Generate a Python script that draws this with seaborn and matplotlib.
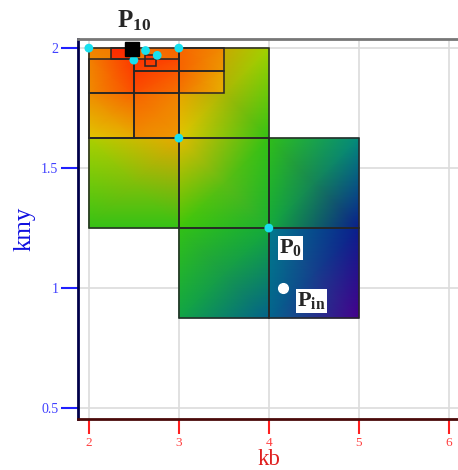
import numpy as np
import matplotlib
matplotlib.use('Agg')
import matplotlib.pyplot as plt
import seaborn as sns
import pandas as pd
from matplotlib.colors import LinearSegmentedColormap
from matplotlib.patches import Rectangle

sns.set_style('white')
plt.rcParams['font.family'] = ['Liberation Serif', 'DejaVu Serif']
plt.rcParams['mathtext.fontset'] = 'custom'
plt.rcParams['mathtext.rm'] = 'Liberation Serif'
plt.rcParams['mathtext.it'] = 'Liberation Serif:italic'
plt.rcParams['mathtext.bf'] = 'Liberation Serif:bold'

# cells (x0, x1, y0, y1), coarse first, refined ones drawn on top
cells = [
    (2.0, 3.0, 1.25, 1.625),
    (3.0, 4.0, 1.25, 1.625),
    (4.0, 5.0, 1.25, 1.625),
    (3.0, 4.0, 0.875, 1.25),
    (4.0, 5.0, 0.875, 1.25),
    (3.0, 4.0, 1.625, 2.0),
    (2.0, 3.0, 1.625, 2.0),
    (3.0, 3.5, 1.8125, 1.906),
    (3.0, 3.5, 1.906, 2.0),
    (2.0, 2.5, 1.625, 1.8125),
    (2.5, 3.0, 1.625, 1.8125),
    (2.0, 2.5, 1.8125, 1.953),
    (2.5, 3.0, 1.8125, 1.906),
    (2.5, 3.0, 1.906, 1.953),
    (2.25, 2.5, 1.953, 2.0),
    (2.625, 2.75, 1.925, 1.97),
]
# field value at each cell's corners (bottom-left, bottom-right, top-left, top-right)
# 1 = red, 0 = purple, estimated from the picture's colours
cell_values = [
    (0.48, 0.48, 0.62, 0.75),
    (0.50, 0.42, 0.72, 0.48),
    (0.40, 0.10, 0.47, 0.28),
    (0.38, 0.20, 0.48, 0.40),
    (0.21, 0.00, 0.24, 0.10),
    (0.70, 0.48, 0.82, 0.60),
    (0.70, 0.78, 0.82, 0.88),
    (0.84, 0.74, 0.88, 0.75),
    (0.88, 0.78, 0.88, 0.80),
    (0.70, 0.74, 0.80, 0.88),
    (0.80, 0.78, 0.88, 0.82),
    (0.80, 0.92, 0.82, 0.97),
    (0.92, 0.85, 0.97, 0.90),
    (0.95, 0.90, 0.98, 0.93),
    (0.97, 0.98, 0.99, 1.00),
    (0.96, 0.95, 0.98, 0.97),
]

# visited points
visit_x = [2.0, 2.5, 2.63, 2.76, 3.0, 3.0, 4.0]
visit_y = [2.0, 1.95, 1.99, 1.97, 2.0, 1.625, 1.25]
p10 = (2.48, 1.995)
pin = (4.155, 1.0)

x_ticks = [2, 3, 4, 5, 6]
y_ticks = [0.5, 1, 1.5, 2]
y_tick_labels = ['0.5', '1', '1.5', '2']

cmap = LinearSegmentedColormap.from_list('field', [
    (0.0, '#46008c'), (0.1, '#0a1e8c'), (0.25, '#00828c'), (0.4, '#14aa3c'),
    (0.5, '#3cc80a'), (0.6, '#a0d200'), (0.7, '#e1c800'), (0.8, '#f08c00'),
    (0.9, '#fa5a00'), (1.0, '#ff2800')])

fig = plt.figure(figsize=(4.58, 4.70), dpi=100)
ax = fig.add_axes([0.170, 0.1085, 0.834, 0.809])

for (x0, x1, y0, y1), (bl, br, tl, tr) in zip(cells, cell_values):
    X = np.array([[x0, x1], [x0, x1]])
    Y = np.array([[y0, y0], [y1, y1]])
    C = np.array([[bl, br], [tl, tr]])
    ax.pcolormesh(X, Y, C, shading='gouraud', cmap=cmap, vmin=0, vmax=1, zorder=2)
    ax.add_patch(Rectangle((x0, y0), x1 - x0, y1 - y0, fill=False,
                           edgecolor='#262626', lw=1.1, zorder=3))

pts = pd.DataFrame({'kb': visit_x, 'kmy': visit_y})
sns.scatterplot(data=pts, x='kb', y='kmy', ax=ax, color='#18e0ee', s=40,
                edgecolor='none', zorder=4, clip_on=False)
ax.plot([pin[0]], [pin[1]], 'o', color='white', ms=7, zorder=5)
ax.plot([p10[0]], [p10[1]], 's', color='black', ms=9.5, zorder=6, clip_on=False)

ax.text(2.5, 2.115, r'$\mathbf{P_{10}}$', fontsize=18, ha='center', va='center',
        clip_on=False)
ax.text(4.24, 1.167, r'$\mathbf{P_{0}}$', fontsize=16, ha='center', va='center',
        bbox=dict(facecolor='white', edgecolor='none', pad=1), zorder=7)
ax.text(4.47, 0.946, r'$\mathbf{P_{in}}$', fontsize=16, ha='center', va='center',
        bbox=dict(facecolor='white', edgecolor='none', pad=1), zorder=7)

ax.set_xlim(1.878, 6.122)
ax.set_ylim(0.454, 2.039)
ax.set_xticks(x_ticks)
ax.set_yticks(y_ticks)
ax.set_xticklabels([str(t) for t in x_ticks])
ax.set_yticklabels(y_tick_labels)
ax.grid(True, color='#dcdcdc', lw=1.2)
ax.set_axisbelow(True)

ax.tick_params(axis='x', direction='out', length=11, width=1.5, colors='#ff2020',
               labelsize=9.5, pad=2, bottom=True)
ax.tick_params(axis='y', direction='out', length=12.5, width=1.5, colors='#2020ff',
               labelsize=10, pad=1.5, left=True)
for lab in ax.get_xticklabels():
    lab.set_color('#ff4040')
for lab in ax.get_yticklabels():
    lab.set_color('#4040ff')

ax.set_xlabel('kb', fontsize=16.5, color='#e02020', labelpad=0)
ax.set_ylabel('kmy', fontsize=18, color='#1010e0', labelpad=4)

ax.spines['left'].set_color('#00004a')
ax.spines['left'].set_linewidth(2)
ax.spines['bottom'].set_color('#4a0a0a')
ax.spines['bottom'].set_linewidth(2)
ax.spines['top'].set_color('#777777')
ax.spines['top'].set_linewidth(2)
ax.spines['right'].set_visible(False)

fig.savefig('out.png', dpi=100)
